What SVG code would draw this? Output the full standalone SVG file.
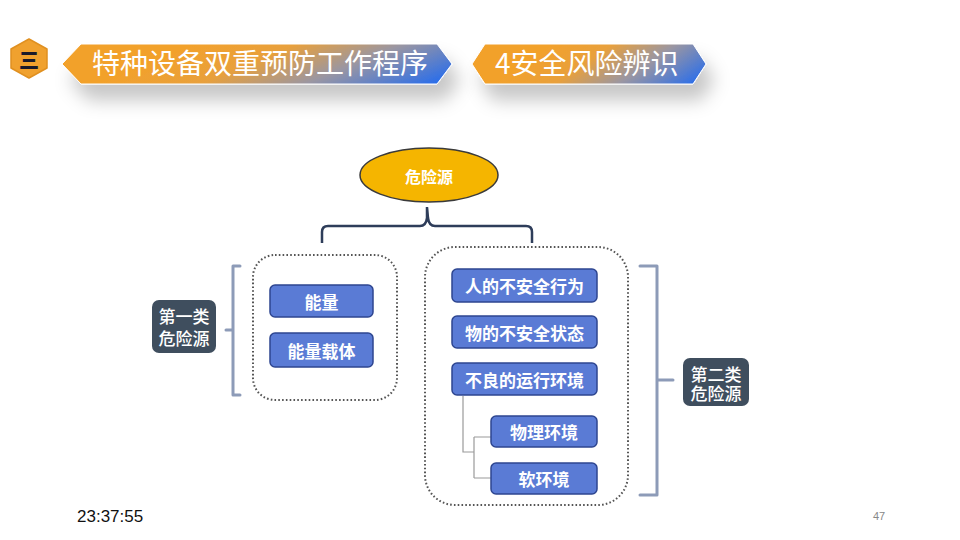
<svg xmlns="http://www.w3.org/2000/svg" width="960" height="540" viewBox="0 0 960 540">
<style>
.cjk{font-family:"Noto Sans CJK SC","Noto Sans",sans-serif}
.ban{font-size:28px;fill:#ffffff;font-weight:400}
.node rect.b{fill:#5A7BD5;stroke:#2E4690;stroke-width:1.5}
.nt{font-size:17px;fill:#ffffff;font-weight:700;text-anchor:middle;dominant-baseline:central}
.cat rect{fill:#3F4E5E}
.ct{font-size:17px;fill:#ffffff;font-weight:500;text-anchor:middle}
.dot{fill:none;stroke:#555;stroke-width:2;stroke-dasharray:1.6 2.2}
.brk{fill:none;stroke:#8D9BB8;stroke-width:3;stroke-linecap:round;stroke-linejoin:round}
.tree{fill:none;stroke:#9A9A9A;stroke-width:1.2}
</style>
<defs>
<linearGradient id="bg" x1="0.343" y1="0" x2="1.15" y2="0.202">
<stop offset="0" stop-color="#F2A12C"/>
<stop offset="0.3" stop-color="#E8A03C"/>
<stop offset="0.62" stop-color="#9A96A2"/>
<stop offset="1" stop-color="#2C6EE9"/>
</linearGradient>
<filter id="sh" x="-10%" y="-50%" width="125%" height="250%">
<feDropShadow dx="8" dy="16" stdDeviation="9" flood-color="#000" flood-opacity="0.22"/>
</filter>
</defs>
<rect width="960" height="540" fill="#ffffff"/>

<g id="badge">
<polygon points="29,39 47,49 47,68 29,78 11,68 11,49" fill="#F0A12E" stroke="#E09020" stroke-width="1.5" stroke-linejoin="round"/>
<text x="29" y="59" class="cjk" font-size="20" font-weight="900" fill="#1A1A2A" text-anchor="middle" dominant-baseline="central">三</text>
</g>

<g id="banner1">
<polygon points="62,64 81,44 437,44 452,64 437,84 81,84" fill="url(#bg)" stroke="#ffffff" stroke-width="1" filter="url(#sh)"/>
<text x="92" y="74" class="cjk ban">特种设备双重预防工作程序</text>
</g>
<g id="banner2">
<polygon points="472,64 485,44 693,44 706,64 693,84 485,84" fill="url(#bg)" stroke="#ffffff" stroke-width="1" filter="url(#sh)"/>
<text x="495" y="74" class="cjk ban">4安全风险辨识</text>
</g>

<g id="connectors">
<path d="M322,243 V232 Q322,226 328,226 H420 Q426,226 427,218 L427,207 L428,218 Q429,226 435,226 H526 Q532,226 532,232 V243" fill="none" stroke="#2E3D5A" stroke-width="2.5"/>
<path class="brk" d="M240,266 H233 V395 H240 M233,330 H226"/>
<path class="brk" d="M640,266 H657 V495 H640 M657,380 H673"/>
<path class="tree" d="M463,396 V452 H474 M474,437 V478 M474,437 H491 M474,478 H491"/>
</g>

<g id="root">
<ellipse cx="429" cy="175" rx="69" ry="27" fill="#F5B500" stroke="#3A3A3A" stroke-width="1.5"/>
<text x="429" y="176" class="cjk" font-size="16" font-weight="700" fill="#ffffff" text-anchor="middle" dominant-baseline="central">危险源</text>
</g>

<g id="group1"><rect class="dot" x="253" y="255" width="144" height="145" rx="22"/></g>
<g id="group2"><rect class="dot" x="425" y="247" width="203" height="258" rx="30"/></g>

<g id="cat1" class="cat">
<rect x="152" y="300" width="64" height="53" rx="7"/>
<text class="cjk ct"><tspan x="184" y="323">第一类</tspan><tspan x="184" y="345">危险源</tspan></text>
</g>
<g id="cat2" class="cat">
<rect x="683" y="358" width="66" height="48" rx="7"/>
<text class="cjk ct"><tspan x="716" y="381">第二类</tspan><tspan x="716" y="400">危险源</tspan></text>
</g>

<g id="n1" class="node"><rect class="b" x="270" y="285" width="103" height="32" rx="5"/><text x="321.5" y="301" class="cjk nt">能量</text></g>
<g id="n2" class="node"><rect class="b" x="270" y="333" width="103" height="34" rx="5"/><text x="321.5" y="350" class="cjk nt">能量载体</text></g>
<g id="n3" class="node"><rect class="b" x="452" y="269" width="145" height="33" rx="5"/><text x="524.5" y="285.5" class="cjk nt">人的不安全行为</text></g>
<g id="n4" class="node"><rect class="b" x="452" y="316" width="145" height="32" rx="5"/><text x="524.5" y="332" class="cjk nt">物的不安全状态</text></g>
<g id="n5" class="node"><rect class="b" x="452" y="363" width="145" height="32" rx="5"/><text x="524.5" y="379" class="cjk nt">不良的运行环境</text></g>
<g id="n6" class="node"><rect class="b" x="491" y="416" width="106" height="31" rx="5"/><text x="544" y="431.5" class="cjk nt">物理环境</text></g>
<g id="n7" class="node"><rect class="b" x="491" y="463" width="106" height="31" rx="5"/><text x="544" y="478.5" class="cjk nt">软环境</text></g>

<text x="77" y="522" font-family="Liberation Sans, sans-serif" font-size="17" fill="#111">23:37:55</text>
<text x="873" y="520" font-family="Liberation Sans, sans-serif" font-size="11" fill="#888">47</text>
</svg>
